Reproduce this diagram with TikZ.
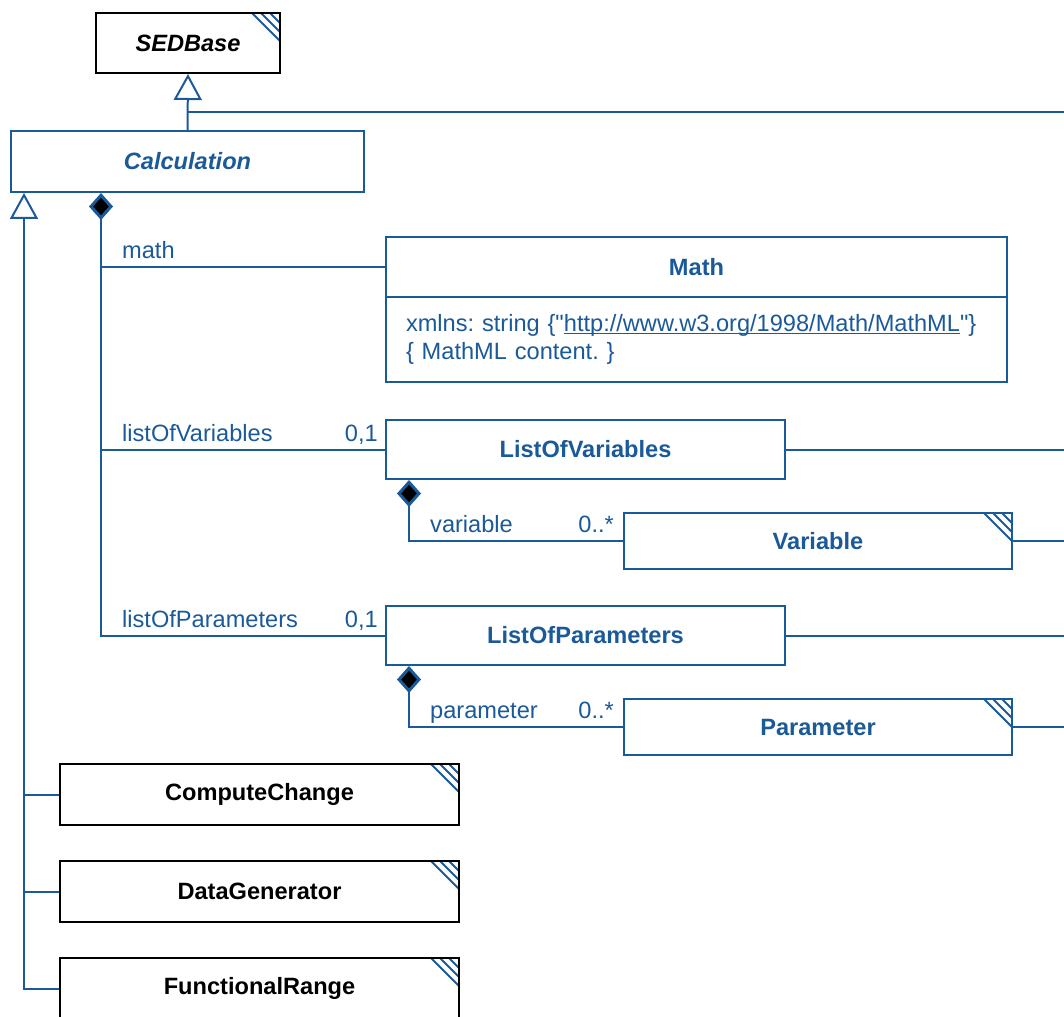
\documentclass[tikz,border=0pt]{standalone}
\usepackage{fontspec}
\setmainfont{Liberation Sans}
\newfontfamily\plainfont{Liberation Sans}
\usepackage{xcolor}
\definecolor{UMLBlue}{HTML}{1B5A99}
\usetikzlibrary{arrows.meta}

\newcommand{\umlfont}{\fontsize{23.6}{28}\selectfont}
% gerade Anfuehrungszeichen
\newcommand{\sq}{{\plainfont"}}
% Unterstreichung knapp unter der Grundlinie
\newcommand{\urlline}[1]{\setbox0\hbox{#1}\rlap{\rule[-2.5pt]{\wd0}{1.4pt}}\box0}

\begin{document}
\frenchspacing
\begin{tikzpicture}[
  x=1pt, y=-1pt,
  % Klassenkasten
  classbox/.style={
    draw=#1,
    text=#1,
    fill=white,
    line width=2pt,
    anchor=north west,
    inner sep=0pt,
    font=\umlfont\bfseries
  },
  classbox/.default=black,
  % schraffierte Ecke (Klasse anderswo definiert)
  hatched/.style={
    path picture={
      \foreach \d in {10,19,28}
        \draw[UMLBlue, line width=1.8pt]
          ([xshift=-\d pt]path picture bounding box.north east) --
          ([yshift=-\d pt]path picture bounding box.north east);
    }
  },
  % Verbinder
  conn/.style={draw=UMLBlue, line width=2pt},
  gen/.style={conn, -{Triangle[length=26pt, width=28pt, fill=white]}},
  comp/.style={conn, {Diamond[length=27pt, width=24pt, fill=black, line width=3pt]}-},
  % Rollen und Multiplizitaeten
  role/.style={text=UMLBlue, font=\umlfont, inner sep=0pt, anchor=base west},
  mult/.style={role, anchor=base east}
]

% =============================================================================
% HINTERGRUND
% =============================================================================
\useasboundingbox (0,0) rectangle (1064,1016);
\fill[white] (0,0) rectangle (1064,1016);
\clip (0,0) rectangle (1064,1016);

% =============================================================================
% KLASSEN
% =============================================================================
\node[classbox, hatched, minimum width=184pt, minimum height=60pt] (sedbase) at (95,12) {\itshape SEDBase};
\node[classbox=UMLBlue, minimum width=353pt, minimum height=61pt] (calc) at (10,130) {\itshape Calculation};

% Math
\node[classbox=UMLBlue, minimum width=621pt, minimum height=60pt] (mathhead) at (385,236) {Math};
\node[classbox=UMLBlue, minimum width=621pt, minimum height=85pt, font=\umlfont,
      text width=581pt, align=left] (mathbody) at ([yshift=2pt]mathhead.south west)
  {xmlns: string \{\sq\urlline{http://www.w3.org/1998/Math/MathML}\sq\}\\\{ MathML content. \}};

% Listen
\node[classbox=UMLBlue, minimum width=399pt, minimum height=59pt] (lov) at (385,419) {ListOfVariables};
\node[classbox=UMLBlue, hatched, minimum width=388pt, minimum height=56pt] (var) at (623,512) {Variable};
\node[classbox=UMLBlue, minimum width=399pt, minimum height=59pt] (lop) at (385,605) {ListOfParameters};
\node[classbox=UMLBlue, hatched, minimum width=388pt, minimum height=56pt] (par) at (623,698) {Parameter};

% Unterklassen
\node[classbox, hatched, minimum width=399pt, minimum height=61pt] (cc) at (59,763) {ComputeChange};
\node[classbox, hatched, minimum width=399pt, minimum height=61pt] (dg) at (59,860) {DataGenerator};
\node[classbox, hatched, minimum width=399pt, minimum height=61pt] (fr) at (59,957) {FunctionalRange};

% =============================================================================
% HILFSPUNKTE
% =============================================================================
\coordinate (east) at (1064,0);
\coordinate (trunk) at ([xshift=91pt]calc.south west);
\coordinate (gtrunk) at ([xshift=14pt]calc.south west);
\coordinate (vtrunk) at ([xshift=24pt]lov.south west);
\coordinate (ptrunk) at ([xshift=24pt]lop.south west);
\coordinate (genjoin) at ([yshift=18pt]calc.north);

% =============================================================================
% VERERBUNG
% =============================================================================
\draw[gen] (calc.north) -- (sedbase.south);
\draw[conn] (genjoin) -- (genjoin -| east);

\draw[gen] (fr.west) -| (gtrunk);
\draw[conn] (cc.west) -- (cc.west -| gtrunk);
\draw[conn] (dg.west) -- (dg.west -| gtrunk);

% =============================================================================
% KOMPOSITION
% =============================================================================
\draw[comp] (trunk) |- (lop.west);
\draw[conn] (trunk |- mathhead.west) -- (mathhead.west);
\draw[conn] (trunk |- lov.west) -- (lov.west);

\node[role, xshift=21pt, yshift=9pt] (lblmath) at (trunk |- mathhead.west) {math};
\node[role, xshift=21pt, yshift=8pt] (lbllov) at (trunk |- lov.west) {listOfVariables};
\node[mult, xshift=-7pt, yshift=8pt] (multlov) at (lov.west) {0,1};
\node[role, xshift=21pt, yshift=8pt] (lbllop) at (trunk |- lop.west) {listOfParameters};
\node[mult, xshift=-7pt, yshift=8pt] (multlop) at (lop.west) {0,1};

\draw[comp] (vtrunk) |- (var.west);
\node[role, xshift=21pt, yshift=9pt] (lblvar) at (vtrunk |- var.west) {variable};
\node[mult, xshift=-9pt, yshift=9pt] (multvar) at (var.west) {0..*};

\draw[comp] (ptrunk) |- (par.west);
\node[role, xshift=21pt, yshift=9pt] (lblpar) at (ptrunk |- par.west) {parameter};
\node[mult, xshift=-9pt, yshift=9pt] (multpar) at (par.west) {0..*};

% =============================================================================
% NACH RECHTS
% =============================================================================
\draw[conn] (lov.east) -- (lov.east -| east);
\draw[conn] (var.east) -- (var.east -| east);
\draw[conn] (lop.east) -- (lop.east -| east);
\draw[conn] (par.east) -- (par.east -| east);

\end{tikzpicture}
\end{document}
